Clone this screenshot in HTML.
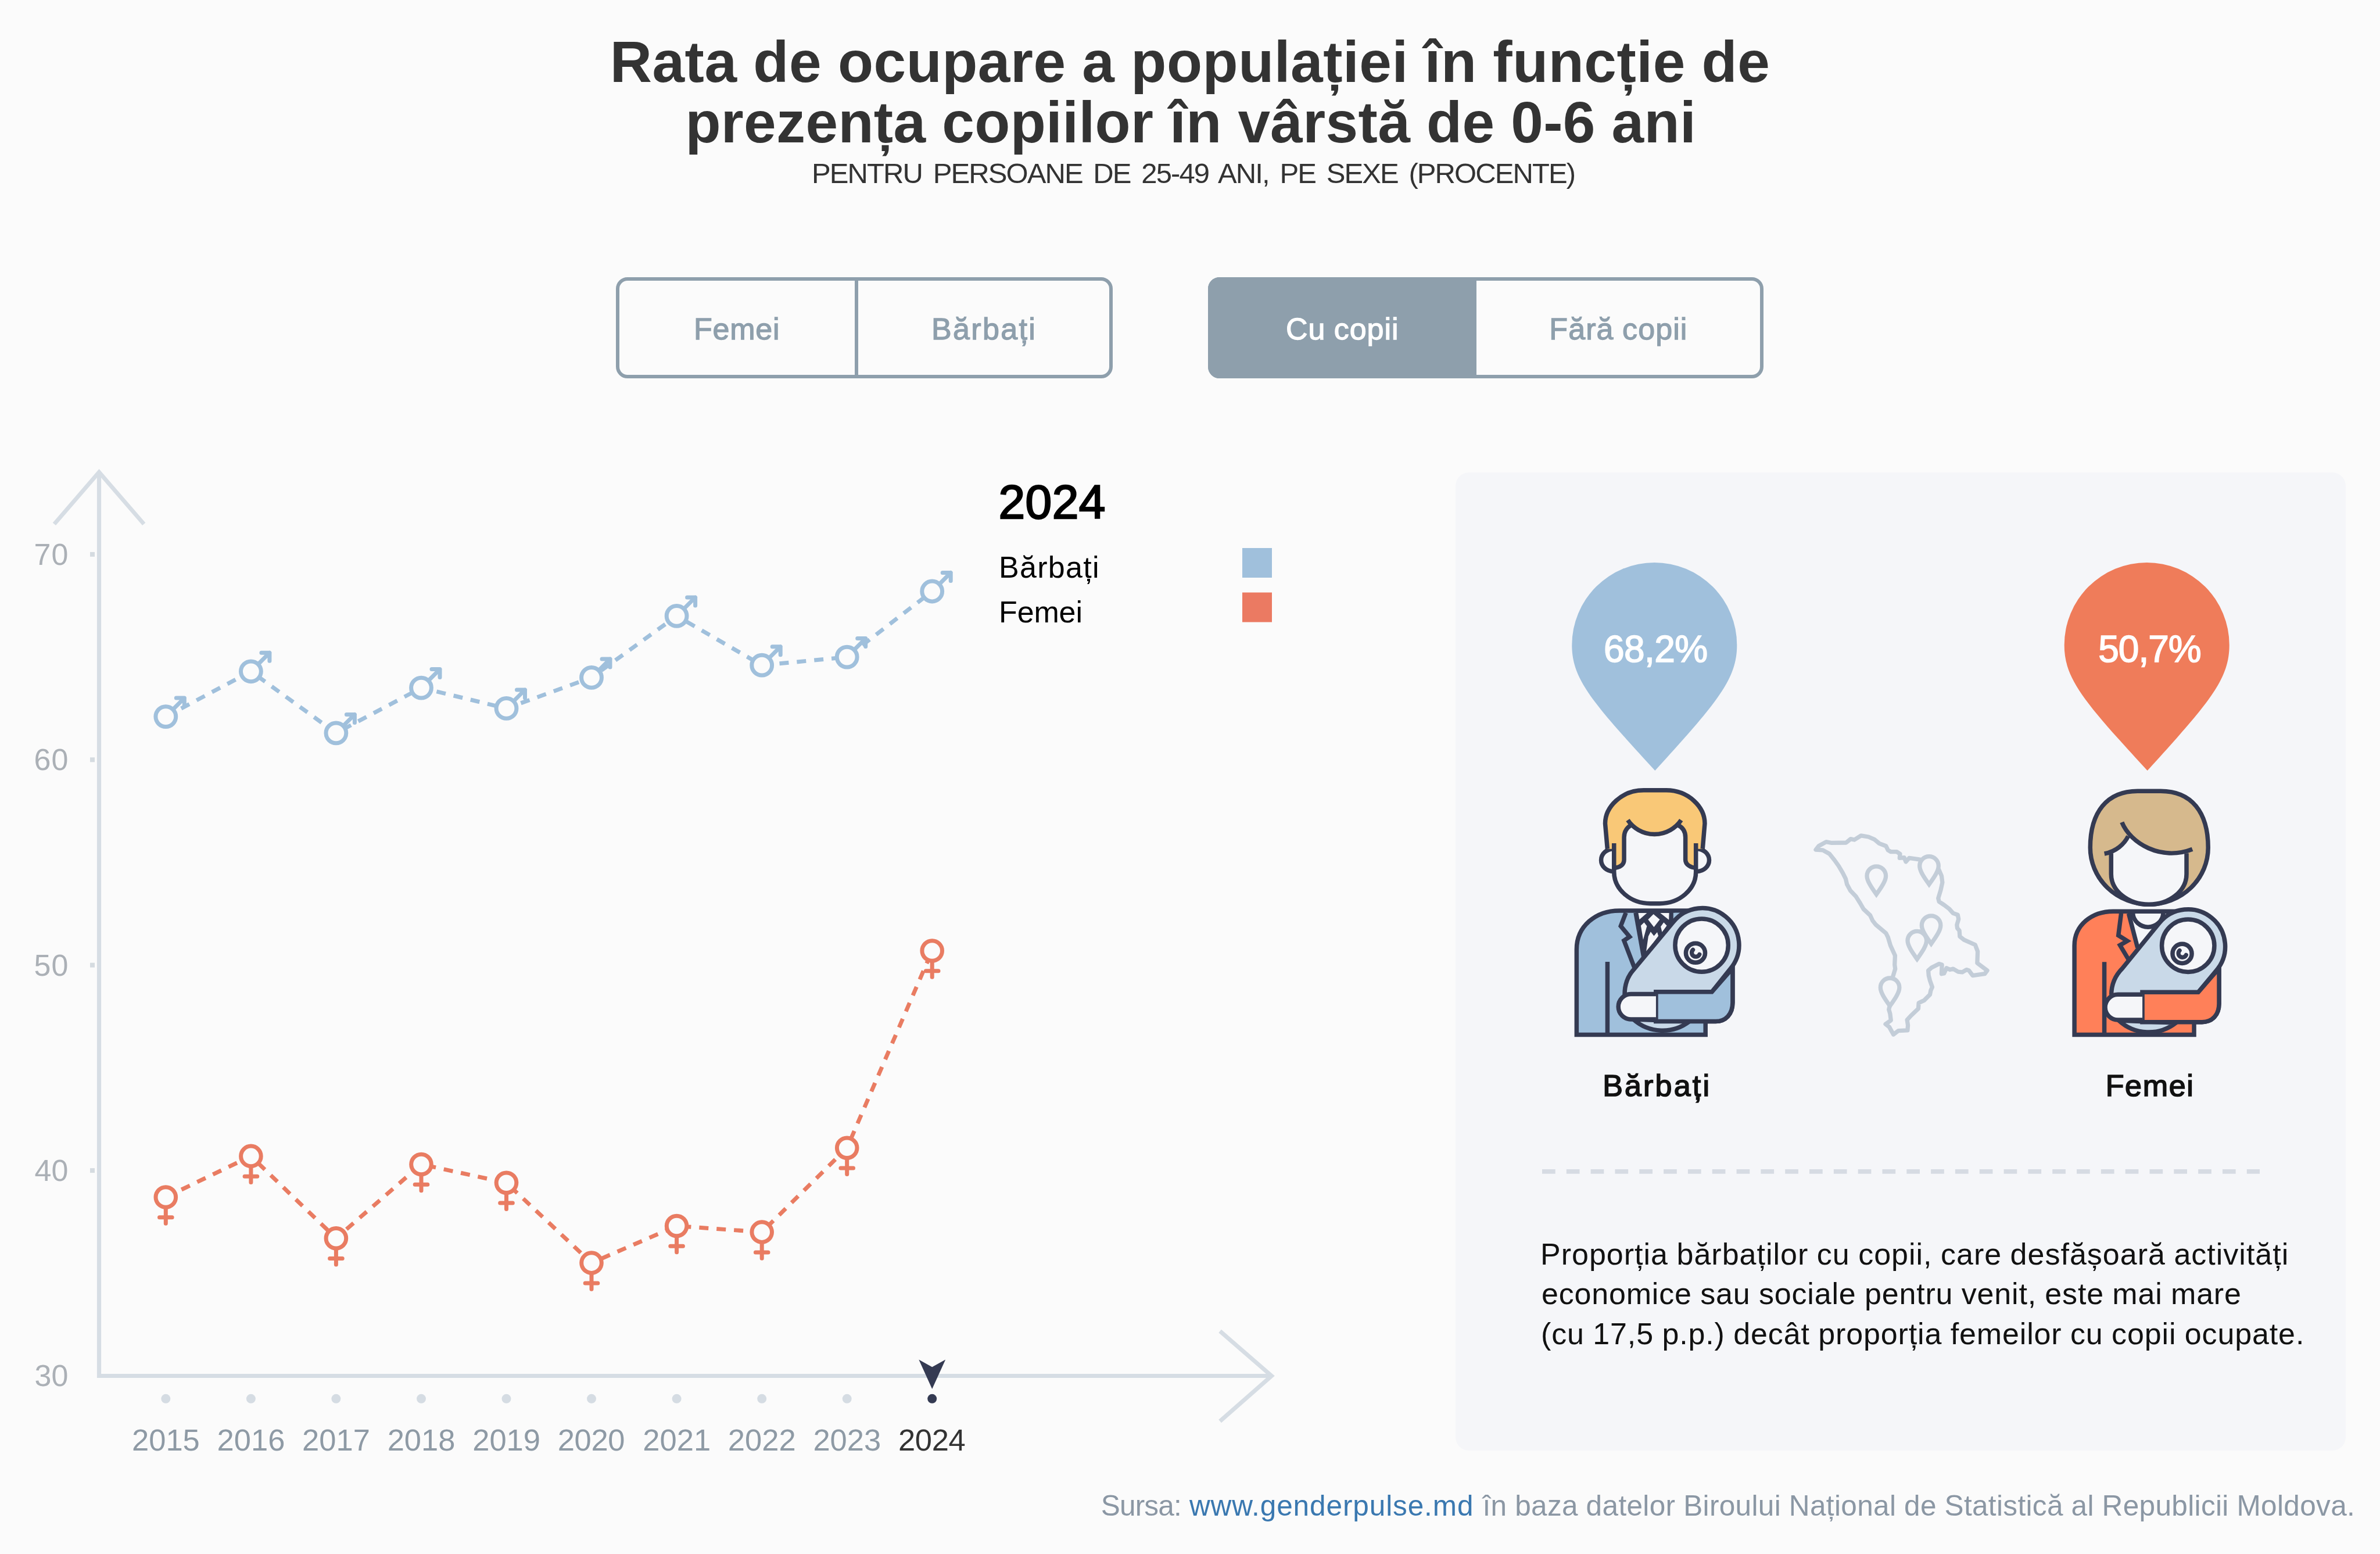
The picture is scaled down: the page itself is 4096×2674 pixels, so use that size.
<!DOCTYPE html>
<html lang="ro"><head><meta charset="utf-8"><title>Rata de ocupare a populației în funcție de prezența copiilor în vârstă de 0-6 ani</title>
<style>
html,body{margin:0;padding:0}
body{width:4096px;height:2674px;background:#fbfbfb;position:relative;overflow:hidden;font-family:"Liberation Sans", sans-serif;}
h1,p,figure,ul,li{margin:0;padding:0;font:inherit;list-style:none}
.t{position:absolute;white-space:nowrap;display:block;margin:0}
.abs{position:absolute}
svg.abs{left:0;top:0}
</style></head><body>
<header>
<h1>
<span class="t" style="left:1049.70px;top:55.75px;font-size:100px;line-height:100px;letter-spacing:0.529px;word-spacing:-0.529px;color:#333333;font-weight:bold;">Rata de ocupare a populației în funcție de</span>
<span class="t" style="left:1179.40px;top:159.95px;font-size:100px;line-height:100px;letter-spacing:0.357px;word-spacing:-0.357px;color:#333333;font-weight:bold;">prezența copiilor în vârstă de 0-6 ani</span>
</h1>
<p class="t" style="left:1397.00px;top:273.62px;font-size:49px;line-height:49px;letter-spacing:-1.913px;word-spacing:7.000px;color:#333333;">PENTRU PERSOANE DE 25-49 ANI, PE SEXE (PROCENTE)</p>
</header>
<nav>
<div class="abs btn" style="left:1060.4px;top:477.2px;width:843px;height:162px;border:6px solid #8e9fac;border-radius:20px"></div>
<div class="abs" style="left:1470.5px;top:477.2px;width:6.3px;height:174px;background:#8e9fac"></div>
<div class="abs btn" style="left:2079.3px;top:477.2px;width:944.1px;height:162px;border:6px solid #8e9fac;border-radius:20px"></div>
<div class="abs" style="left:2079.3px;top:477.2px;width:461.4px;height:174px;background:#8e9fac;border-radius:20px 0 0 20px"></div>
<span class="t" style="left:1194.00px;top:539.98px;font-size:52px;line-height:52px;letter-spacing:0.770px;word-spacing:-0.770px;color:#8e9fac;-webkit-text-stroke:1.3px #8e9fac;">Femei</span>
<span class="t" style="left:1603.00px;top:539.98px;font-size:52px;line-height:52px;letter-spacing:2.349px;word-spacing:-2.349px;color:#8e9fac;-webkit-text-stroke:1.3px #8e9fac;">Bărbați</span>
<span class="t" style="left:2213.00px;top:539.98px;font-size:52px;line-height:52px;letter-spacing:0.931px;word-spacing:-0.931px;color:#ffffff;-webkit-text-stroke:1.3px #ffffff;">Cu copii</span>
<span class="t" style="left:2666.30px;top:539.98px;font-size:52px;line-height:52px;letter-spacing:1.093px;word-spacing:-1.093px;color:#8e9fac;-webkit-text-stroke:1.3px #8e9fac;">Fără copii</span>
</nav>
<main>
<section class="chart">
<svg class="abs" width="4096" height="2674" viewBox="0 0 4096 2674">
<path d="M170.5 812.4V2367.5H2188.5" fill="none" stroke="#d6dde4" stroke-width="7.2" stroke-linejoin="miter"/>
<path d="M93.4 901.7L170.5 812.4L247.7 901.7" fill="none" stroke="#d6dde4" stroke-width="7" stroke-linejoin="miter" stroke-miterlimit="10"/>
<path d="M2099.6 2290.5L2188.5 2367.5L2099.6 2445.5" fill="none" stroke="#d6dde4" stroke-width="7" stroke-linejoin="miter" stroke-miterlimit="10"/>
<rect x="155" y="949.9" width="8" height="8" fill="#d5dbe0"/>
<rect x="155" y="1303.3" width="8" height="8" fill="#d5dbe0"/>
<rect x="155" y="1656.7" width="8" height="8" fill="#d5dbe0"/>
<rect x="155" y="2010.1" width="8" height="8" fill="#d5dbe0"/>
<circle cx="285.3" cy="2406.8" r="8" fill="#d5dce3"/>
<circle cx="431.9" cy="2406.8" r="8" fill="#d5dce3"/>
<circle cx="578.4" cy="2406.8" r="8" fill="#d5dce3"/>
<circle cx="725.0" cy="2406.8" r="8" fill="#d5dce3"/>
<circle cx="871.5" cy="2406.8" r="8" fill="#d5dce3"/>
<circle cx="1018.0" cy="2406.8" r="8" fill="#d5dce3"/>
<circle cx="1164.6" cy="2406.8" r="8" fill="#d5dce3"/>
<circle cx="1311.2" cy="2406.8" r="8" fill="#d5dce3"/>
<circle cx="1457.7" cy="2406.8" r="8" fill="#d5dce3"/>
<circle cx="1604.2" cy="2406.8" r="8" fill="#343a52"/>
<path d="M1581.3 2339.5L1604.2 2352.3L1627.2 2339.5L1604.2 2390.1Z" fill="#343a52"/>
<path d="M285.3 1233.1L431.9 1155.3L578.4 1261.4L725.0 1183.6L871.5 1218.9L1018.0 1165.9L1164.6 1059.9L1311.2 1144.7L1457.7 1130.6L1604.2 1017.5" fill="none" stroke="#a0c0dc" stroke-width="7" stroke-dasharray="16 14" stroke-linejoin="round"/>
<g transform="translate(285.3 1233.1)" fill="none" stroke="#a0c0dc" stroke-width="7" stroke-linecap="round" stroke-linejoin="round"><path d="M12.3 -12.3L32 -32M18 -32H32V-18"/><circle r="17.4" fill="#fbfbfb"/></g>
<g transform="translate(431.9 1155.3)" fill="none" stroke="#a0c0dc" stroke-width="7" stroke-linecap="round" stroke-linejoin="round"><path d="M12.3 -12.3L32 -32M18 -32H32V-18"/><circle r="17.4" fill="#fbfbfb"/></g>
<g transform="translate(578.4 1261.4)" fill="none" stroke="#a0c0dc" stroke-width="7" stroke-linecap="round" stroke-linejoin="round"><path d="M12.3 -12.3L32 -32M18 -32H32V-18"/><circle r="17.4" fill="#fbfbfb"/></g>
<g transform="translate(725.0 1183.6)" fill="none" stroke="#a0c0dc" stroke-width="7" stroke-linecap="round" stroke-linejoin="round"><path d="M12.3 -12.3L32 -32M18 -32H32V-18"/><circle r="17.4" fill="#fbfbfb"/></g>
<g transform="translate(871.5 1218.9)" fill="none" stroke="#a0c0dc" stroke-width="7" stroke-linecap="round" stroke-linejoin="round"><path d="M12.3 -12.3L32 -32M18 -32H32V-18"/><circle r="17.4" fill="#fbfbfb"/></g>
<g transform="translate(1018.0 1165.9)" fill="none" stroke="#a0c0dc" stroke-width="7" stroke-linecap="round" stroke-linejoin="round"><path d="M12.3 -12.3L32 -32M18 -32H32V-18"/><circle r="17.4" fill="#fbfbfb"/></g>
<g transform="translate(1164.6 1059.9)" fill="none" stroke="#a0c0dc" stroke-width="7" stroke-linecap="round" stroke-linejoin="round"><path d="M12.3 -12.3L32 -32M18 -32H32V-18"/><circle r="17.4" fill="#fbfbfb"/></g>
<g transform="translate(1311.2 1144.7)" fill="none" stroke="#a0c0dc" stroke-width="7" stroke-linecap="round" stroke-linejoin="round"><path d="M12.3 -12.3L32 -32M18 -32H32V-18"/><circle r="17.4" fill="#fbfbfb"/></g>
<g transform="translate(1457.7 1130.6)" fill="none" stroke="#a0c0dc" stroke-width="7" stroke-linecap="round" stroke-linejoin="round"><path d="M12.3 -12.3L32 -32M18 -32H32V-18"/><circle r="17.4" fill="#fbfbfb"/></g>
<g transform="translate(1604.2 1017.5)" fill="none" stroke="#a0c0dc" stroke-width="7" stroke-linecap="round" stroke-linejoin="round"><path d="M12.3 -12.3L32 -32M18 -32H32V-18"/><circle r="17.4" fill="#fbfbfb"/></g>
<path d="M285.3 2060.0L431.9 1989.4L578.4 2130.7L725.0 2003.5L871.5 2035.3L1018.0 2173.1L1164.6 2109.5L1311.2 2120.1L1457.7 1975.2L1604.2 1636.0" fill="none" stroke="#e97c62" stroke-width="7" stroke-dasharray="16 14" stroke-linejoin="round"/>
<g transform="translate(285.3 2060.0)" fill="none" stroke="#e97c62" stroke-width="7" stroke-linecap="round"><path d="M0 17.4V45.2M-10.8 34.8H10.8"/><circle r="17.3" fill="#fbfbfb"/></g>
<g transform="translate(431.9 1989.4)" fill="none" stroke="#e97c62" stroke-width="7" stroke-linecap="round"><path d="M0 17.4V45.2M-10.8 34.8H10.8"/><circle r="17.3" fill="#fbfbfb"/></g>
<g transform="translate(578.4 2130.7)" fill="none" stroke="#e97c62" stroke-width="7" stroke-linecap="round"><path d="M0 17.4V45.2M-10.8 34.8H10.8"/><circle r="17.3" fill="#fbfbfb"/></g>
<g transform="translate(725.0 2003.5)" fill="none" stroke="#e97c62" stroke-width="7" stroke-linecap="round"><path d="M0 17.4V45.2M-10.8 34.8H10.8"/><circle r="17.3" fill="#fbfbfb"/></g>
<g transform="translate(871.5 2035.3)" fill="none" stroke="#e97c62" stroke-width="7" stroke-linecap="round"><path d="M0 17.4V45.2M-10.8 34.8H10.8"/><circle r="17.3" fill="#fbfbfb"/></g>
<g transform="translate(1018.0 2173.1)" fill="none" stroke="#e97c62" stroke-width="7" stroke-linecap="round"><path d="M0 17.4V45.2M-10.8 34.8H10.8"/><circle r="17.3" fill="#fbfbfb"/></g>
<g transform="translate(1164.6 2109.5)" fill="none" stroke="#e97c62" stroke-width="7" stroke-linecap="round"><path d="M0 17.4V45.2M-10.8 34.8H10.8"/><circle r="17.3" fill="#fbfbfb"/></g>
<g transform="translate(1311.2 2120.1)" fill="none" stroke="#e97c62" stroke-width="7" stroke-linecap="round"><path d="M0 17.4V45.2M-10.8 34.8H10.8"/><circle r="17.3" fill="#fbfbfb"/></g>
<g transform="translate(1457.7 1975.2)" fill="none" stroke="#e97c62" stroke-width="7" stroke-linecap="round"><path d="M0 17.4V45.2M-10.8 34.8H10.8"/><circle r="17.3" fill="#fbfbfb"/></g>
<g transform="translate(1604.2 1636.0)" fill="none" stroke="#e97c62" stroke-width="7" stroke-linecap="round"><path d="M0 17.4V45.2M-10.8 34.8H10.8"/><circle r="17.3" fill="#fbfbfb"/></g>
<rect x="2138" y="943" width="51" height="51" fill="#a0c0dc"/>
<rect x="2138" y="1019.5" width="51" height="51" fill="#eb7a62"/>
</svg>
<div class="legend">
<span class="t" style="left:1718.50px;top:822.79px;font-size:82px;line-height:82px;letter-spacing:0.496px;word-spacing:-0.496px;color:#000;-webkit-text-stroke:2.5px #000;">2024</span>
<span class="t" style="left:1719.00px;top:949.78px;font-size:52px;line-height:52px;letter-spacing:1.299px;word-spacing:-1.299px;color:#000;">Bărbați</span>
<span class="t" style="left:1719.00px;top:1027.18px;font-size:52px;line-height:52px;letter-spacing:-0.130px;word-spacing:0.130px;color:#000;">Femei</span>
</div>
<div class="axis-y">
<span class="t" style="left:58.60px;top:927.88px;font-size:52px;line-height:52px;letter-spacing:0.980px;word-spacing:-0.980px;color:#abb0b6;">70</span>
<span class="t" style="left:58.60px;top:1281.28px;font-size:52px;line-height:52px;letter-spacing:0.980px;word-spacing:-0.980px;color:#abb0b6;">60</span>
<span class="t" style="left:58.60px;top:1634.68px;font-size:52px;line-height:52px;letter-spacing:0.980px;word-spacing:-0.980px;color:#abb0b6;">50</span>
<span class="t" style="left:59.60px;top:1988.08px;font-size:52px;line-height:52px;letter-spacing:-0.020px;word-spacing:0.020px;color:#abb0b6;">40</span>
<span class="t" style="left:59.60px;top:2341.48px;font-size:52px;line-height:52px;letter-spacing:-0.020px;word-spacing:0.020px;color:#abb0b6;">30</span>
</div>
<div class="axis-x">
<span class="t" style="left:227.00px;top:2452.36px;font-size:52.5px;line-height:52.5px;letter-spacing:0.002px;word-spacing:-0.002px;color:#8e9aa5;">2015</span>
<span class="t" style="left:373.55px;top:2452.36px;font-size:52.5px;line-height:52.5px;letter-spacing:0.002px;word-spacing:-0.002px;color:#8e9aa5;">2016</span>
<span class="t" style="left:520.10px;top:2452.36px;font-size:52.5px;line-height:52.5px;letter-spacing:0.002px;word-spacing:-0.002px;color:#8e9aa5;">2017</span>
<span class="t" style="left:666.65px;top:2452.36px;font-size:52.5px;line-height:52.5px;letter-spacing:0.002px;word-spacing:-0.002px;color:#8e9aa5;">2018</span>
<span class="t" style="left:813.20px;top:2452.36px;font-size:52.5px;line-height:52.5px;letter-spacing:0.002px;word-spacing:-0.002px;color:#8e9aa5;">2019</span>
<span class="t" style="left:959.75px;top:2452.36px;font-size:52.5px;line-height:52.5px;letter-spacing:-0.331px;word-spacing:0.331px;color:#8e9aa5;">2020</span>
<span class="t" style="left:1106.30px;top:2452.36px;font-size:52.5px;line-height:52.5px;letter-spacing:0.002px;word-spacing:-0.002px;color:#8e9aa5;">2021</span>
<span class="t" style="left:1252.85px;top:2452.36px;font-size:52.5px;line-height:52.5px;letter-spacing:0.002px;word-spacing:-0.002px;color:#8e9aa5;">2022</span>
<span class="t" style="left:1399.40px;top:2452.36px;font-size:52.5px;line-height:52.5px;letter-spacing:0.002px;word-spacing:-0.002px;color:#8e9aa5;">2023</span>
<span class="t" style="left:1545.95px;top:2452.36px;font-size:52.5px;line-height:52.5px;letter-spacing:-0.331px;word-spacing:0.331px;color:#333333;">2024</span>
</div>
</section>
<aside class="panel">
<div class="abs" style="left:2505.1px;top:812.8px;width:1531.7px;height:1683.5px;background:#f5f6f9;border-radius:23px"></div>
<svg class="abs" width="4096" height="2674" viewBox="0 0 4096 2674">
<path d="M2705.3 1110A142 142 0 0 1 2989.3 1110C2989.3 1168 2956.8 1207 2848.3 1326C2738.8 1207 2705.3 1168 2705.3 1110Z" fill="#a0c0dc"/>
<path d="M3552.7 1110A142 142 0 0 1 3836.7 1110C3836.7 1168 3804.2 1207 3695.7 1326C3586.2 1207 3552.7 1168 3552.7 1110Z" fill="#ef7c5a"/>
<path d="M2654 2015.9H3889" stroke="#d6dbe3" stroke-width="7.8" stroke-dasharray="22.7 19.12" fill="none"/>
<g transform="translate(2700 1550) scale(0.160875)" stroke="#343a52" stroke-width="46.6" fill="none" stroke-linejoin="miter" >

<path d="M83 1433V520C83 270 290 105 540 105H1420L1752 480V1090C1752 1210 1680 1290 1570 1290H1462V1433Z" fill="#a0c0dc" stroke="none"/>
<path d="M715 118L800 600L1140 200L1105 118Z" fill="#f5f6f9" stroke="none"/>
<path d="M83 1433V520C83 270 290 105 540 105H1420L1752 480V1090C1752 1210 1680 1290 1570 1290H1462V1433Z"/>
<path d="M610 128L555 270L650 385L590 425L705 725"/>
<path d="M715 128L800 600"/>
<path d="M413 652V1433"/>

</g><g transform="translate(2770 1555) scale(0.080451)" stroke="#343a52" stroke-width="93.2" fill="none" stroke-linejoin="miter" >

<g stroke="none">
<path d="M560 150L735 1140L1400 350V150Z" fill="#343a52"/>
<path d="M615 200H800L640 340Z" fill="#f5f6f9"/>
<path d="M940 225L1075 340L950 500L825 340Z" fill="#f5f6f9"/>
<path d="M1085 200H1275L1270 345Z" fill="#f5f6f9"/>
<path d="M740 400L800 480L720 770L670 470Z" fill="#f5f6f9"/>
<path d="M1160 400L1225 470L1125 610L1095 490Z" fill="#f5f6f9"/>
<path d="M880 600L950 690L1020 610L1045 690L780 1050L830 700Z" fill="#f5f6f9"/>
<path d="M1365 195H1530L1365 345Z" fill="#a0c0dc"/>
</g>

</g><g transform="translate(2700 1550) scale(0.160875)" stroke="#343a52" stroke-width="46.6" fill="none" stroke-linejoin="miter" >

<path d="M690 1268A470 470 0 0 0 1290 1290Z" fill="#c9d9e8"/>
<path d="M597 985C597 900 620 820 690 740L1116.3 227.4A395 395 0 1 1 1728.5 726.6L1530 975Z" fill="#c9d9e8" stroke="none"/>
<path d="M597 1000C597 900 620 820 690 740L1116.3 227.4A395 395 0 1 1 1728.5 726.6L1530 975"/>
<circle cx="1421" cy="476" r="284" fill="#f5f6f9"/>
<circle cx="1355" cy="558" r="103" fill="#f5f6f9" stroke-width="46.5"/>
<path d="M1327.7 524.3A43.2 43.2 0 1 0 1397.4 573.1" stroke-width="45" stroke-linecap="round"/>
<path d="M932 975H1530L1752 720V1090C1752 1210 1680 1290 1570 1290H932Z" fill="#a0c0dc" stroke="none"/>
<path d="M1752 700V1090C1752 1210 1680 1290 1570 1290H908M932 1312V952M908 975H1530L1740 733"/>
<path d="M932 997H665A135.500 135.500 0 0 0 665 1268H932" fill="#f5f6f9"/>

</g><g transform="translate(2740 1340) scale(0.148049)" stroke="#343a52" stroke-width="50.7" fill="none" stroke-linejoin="miter" >

<ellipse cx="248" cy="946" rx="143" ry="131" fill="#f5f6f9"/>
<ellipse cx="1218" cy="946" rx="143" ry="131" fill="#f5f6f9"/>
<path d="M255 750V1082A424 368 0 0 0 679 1450H783A424 368 0 0 0 1207 1082V750Z" fill="#f5f6f9" stroke="none"/>
<path d="M178 815L152 520C152 330 340 134 600 134L862 134C1122 134 1310 330 1310 520L1285 815L1207 815V1035C1150 1035 1085 1000 1085 940V680C1085 600 1040 560 1005 545A374 374 0 0 1 445 545C420 560 372 600 372 680V940C372 1000 320 1035 255 1035V815Z" fill="#f9c877" stroke="none"/>
<path d="M178 815L152 520C152 330 340 134 600 134L862 134C1122 134 1310 330 1310 520L1285 815"/>
<path d="M255 750V1082A424 368 0 0 0 679 1450H783A424 368 0 0 0 1207 1082V750"/>
<path d="M255 1035C320 1035 372 1000 372 940V680C372 600 420 560 450 540M1207 1035C1150 1035 1085 1000 1085 940V680C1085 600 1040 560 1000 540"/>
<path d="M415 480A374 374 0 0 0 1035 480"/>

</g>
<g transform="translate(3550 1550) scale(0.160875)" stroke="#343a52" stroke-width="46.6" fill="none" stroke-linejoin="miter" >

<path d="M125 1433V480C125 260 310 113 540 113H1340L1672 480V1100C1672 1220 1600 1297 1490 1297H1405V1433Z" fill="#ff8059" stroke="none"/>
<path d="M705 122L800 500L1060 230L1170 122Z" fill="#f5f6f9" stroke="none"/>
<path d="M125 1433V480C125 260 310 113 540 113H1340L1672 480V1100C1672 1220 1600 1297 1490 1297H1405V1433Z"/>
<path d="M750 135A163 158 0 0 0 1075 135"/>
<path d="M625 135L595 370L690 430L612 475L705 630"/>
<path d="M705 135L800 500"/>
<path d="M445 655V1433"/>

<path d="M600 1280A470 470 0 0 0 1210 1305Z" fill="#c9d9e8"/>
<path d="M520 985C520 900 560 800 640 720L1032.4 239A397 397 0 1 1 1644.9 744.2L1450 978Z" fill="#c9d9e8" stroke="none"/>
<path d="M520 1005C520 900 560 800 640 720L1032.4 239A397 397 0 1 1 1644.9 744.2L1450 978"/>
<circle cx="1341" cy="480" r="281" fill="#f5f6f9"/>
<circle cx="1277.4" cy="565" r="103" fill="#f5f6f9" stroke-width="46.5"/>
<path d="M1250 531.3A43.2 43.2 0 1 0 1319.8 580" stroke-width="45" stroke-linecap="round"/>
<path d="M852 978H1450L1672 720V1100C1672 1220 1600 1297 1490 1297H852Z" fill="#ff8059" stroke="none"/>
<path d="M1672 700V1100C1672 1220 1600 1297 1490 1297H828M852 1320V955M828 978H1450L1660 735"/>
<path d="M852 1003H590A136 136 0 0 0 590 1275H852" fill="#f5f6f9"/>

</g><g transform="translate(3580 1340) scale(0.154440)" stroke="#343a52" stroke-width="48.6" fill="none" stroke-linejoin="miter" >

<path d="M112 768C112 370 300 137 640 137L898 137C1238 137 1426 370 1426 768A657 632 0 0 1 112 768Z" fill="#d6b98d"/>
<path d="M345 820C420 790 500 720 535 640C640 760 900 900 1185 815V1062A420 339 0 0 1 765 1401A420 339 0 0 1 345 1062Z" fill="#f5f6f9" stroke="none"/>
<path d="M345 830V1062A420 339 0 0 0 765 1401A420 339 0 0 0 1185 1062V830"/>
<path d="M465 485C560 720 900 920 1250 785"/>
<path d="M535 640C490 730 400 810 270 835"/>

</g>
<g transform="translate(3100 1420) scale(0.142857)" fill="none" stroke="#c3cdd8" stroke-width="51.1">
<path d="M1440 415L1300 395L1260 440L1240 390L1185 395L1190 345L1150 320L1080 320L1045 300L1020 250L940 220L880 170L810 140L720 125L640 175L595 165L540 210L360 212L300 200L210 250L175 295L260 300L340 345L400 420L450 490L500 575L535 645L550 710L590 785L660 860L710 940L750 1010L830 1085L860 1150L900 1200L1020 1300L1045 1350L1075 1450L1130 1570L1125 1680L1132 1730L1105 1820L1095 1845M1660 540L1690 610L1700 690L1680 780L1650 880L1660 920L1720 960L1780 1005L1830 1060L1885 1080L1895 1130L1875 1200L1880 1240L1905 1270L1910 1340L1960 1380L2095 1440L2125 1520L2120 1660L2240 1750L2210 1790L2065 1810L2020 1750L1990 1740L1940 1770L1890 1765L1830 1730L1790 1740L1750 1720L1720 1785L1690 1790L1695 1680L1660 1670L1570 1715L1530 1750L1535 1810L1550 1870L1578 1950L1560 1990L1550 2040L1480 2110L1415 2140L1410 2210L1320 2295L1275 2345L1285 2410L1280 2470L1170 2475L1110 2520L1060 2430L1015 2395L1080 2350L1070 2270L1055 2220L1068 2165" stroke-linejoin="round" stroke-linecap="round"/>
<path d="M791 610A114 114 0 1 1 1019 610C1019 670 967 745 905 832C843 745 791 670 791 610Z" stroke-linejoin="miter" fill="#f5f6f9"/>
<path d="M1426 490A114 114 0 1 1 1654 490C1654 550 1602 625 1540 712C1478 625 1426 550 1426 490Z" stroke-linejoin="miter" fill="#f5f6f9"/>
<path d="M1281 1390A114 114 0 1 1 1509 1390C1509 1450 1457 1525 1395 1612C1333 1525 1281 1450 1281 1390Z" stroke-linejoin="miter" fill="#f5f6f9"/>
<path d="M1451 1205A114 114 0 1 1 1679 1205C1679 1265 1627 1340 1565 1427C1503 1340 1451 1265 1451 1205Z" stroke-linejoin="miter" fill="#f5f6f9"/>
<path d="M954 1955A114 114 0 1 1 1182 1955C1182 2015 1130 2090 1068 2177C1006 2090 954 2015 954 1955Z" stroke-linejoin="miter" fill="#f5f6f9"/>
</g>
</svg>
<div class="t" style="left:2760.10px;top:1085.02px;font-size:64px;line-height:64px;letter-spacing:-0.616px;word-spacing:0.616px;color:#fff;-webkit-text-stroke:1.6px #fff;">68,2%</div>
<div class="t" style="left:3611.30px;top:1085.02px;font-size:64px;line-height:64px;letter-spacing:-1.041px;word-spacing:1.041px;color:#fff;-webkit-text-stroke:1.6px #fff;">50,7%</div>
<div class="t" style="left:2758.20px;top:1842.08px;font-size:52px;line-height:52px;letter-spacing:3.165px;word-spacing:-3.165px;color:#111;-webkit-text-stroke:1.7px #111;">Bărbați</div>
<div class="t" style="left:3623.70px;top:1842.08px;font-size:52px;line-height:52px;letter-spacing:1.670px;word-spacing:-1.670px;color:#111;-webkit-text-stroke:1.7px #111;">Femei</div>
<p class="t" style="left:2651.00px;top:2131.88px;font-size:52px;line-height:52px;letter-spacing:1.004px;word-spacing:-1.004px;color:#111;">Proporția bărbaților cu copii, care desfășoară activități</p>
<p class="t" style="left:2653.00px;top:2200.38px;font-size:52px;line-height:52px;letter-spacing:0.813px;word-spacing:-0.813px;color:#111;">economice sau sociale pentru venit, este mai mare</p>
<p class="t" style="left:2652.00px;top:2269.48px;font-size:52px;line-height:52px;letter-spacing:0.865px;word-spacing:-0.865px;color:#111;">(cu 17,5 p.p.) decât proporția femeilor cu copii ocupate.</p>
</aside>
</main>
<footer>
<span class="t" style="left:1894.70px;top:2566.10px;font-size:49.5px;line-height:49.5px;letter-spacing:-0.802px;word-spacing:0.802px;color:#8b97a4;">Sursa:</span>
<span class="t" style="left:2046.90px;top:2566.10px;font-size:49.5px;line-height:49.5px;letter-spacing:0.899px;word-spacing:-0.899px;color:#3a78b0;">www.genderpulse.md</span>
<span class="t" style="left:2551.40px;top:2566.10px;font-size:49.5px;line-height:49.5px;letter-spacing:0.351px;word-spacing:-0.351px;color:#8b97a4;">în baza datelor Biroului Național de Statistică al Republicii Moldova.</span>
</footer>
</body></html>
